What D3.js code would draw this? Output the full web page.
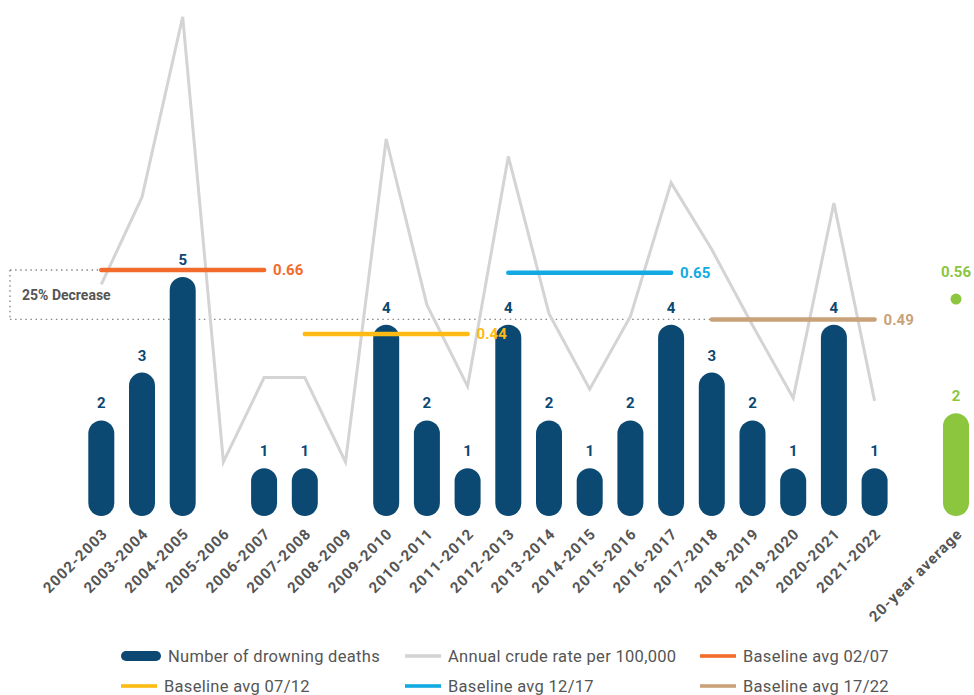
<!DOCTYPE html>
<html><head><meta charset="utf-8">
<script src="https://cdn.jsdelivr.net/npm/d3@7/dist/d3.min.js"></script>
<style>
body{margin:0;background:#fff;}
svg{display:block;font-family:Roboto,"Open Sans",sans-serif;}
</style></head>
<body>
<svg id="chart" width="974" height="695"></svg>
<script>
const categories = ["2002-2003","2003-2004","2004-2005","2005-2006","2006-2007","2007-2008","2008-2009","2009-2010","2010-2011","2011-2012","2012-2013","2013-2014","2014-2015","2015-2016","2016-2017","2017-2018","2018-2019","2019-2020","2020-2021","2021-2022"];
const deaths = [2,3,5,0,1,1,0,4,2,1,4,2,1,2,4,3,2,1,4,1];
const rates = [0.61,0.91,1.53,0,0.29,0.29,0,1.11,0.54,0.26,1.05,0.51,0.25,0.50,0.96,0.73,0.47,0.22,0.89,0.21];
const avgLabel = "20-year average";
const avgDeaths = 2.15;
const avgDeathsLabel = "2";
const avgRate = 0.56;
const baselines = [
  {name:"Baseline avg 02/07", value:0.66, from:"2002-2003", to:"2006-2007", color:"#f26b2a"},
  {name:"Baseline avg 07/12", value:0.44, from:"2007-2008", to:"2011-2012", color:"#fdbb13"},
  {name:"Baseline avg 12/17", value:0.65, from:"2012-2013", to:"2016-2017", color:"#13aae3"},
  {name:"Baseline avg 17/22", value:0.49, from:"2017-2018", to:"2021-2022", color:"#c9a27a"}
];
const decreaseLabel = "25% Decrease";

const navy = "#0b4872", green = "#8cc63f", grey = "#d4d4d6", textGrey = "#555";
const svg = d3.select("#chart");

const x = d3.scalePoint().domain([...categories, "gap", avgLabel]).range([101.3, 956]);
const yD = d3.scaleLinear().domain([0,5]).range([516, 277]);
const yR = d3.scaleLinear().domain([0,1]).range([462, 171]);
const barW = 26;

// dotted 25% decrease box
const dot = svg.append("g").attr("stroke","#888").attr("stroke-width",1.4).attr("stroke-dasharray","1.5,3.6").attr("fill","none");
dot.append("line").attr("x1",10).attr("x2",x("2002-2003")).attr("y1",yR(0.66)).attr("y2",yR(0.66));
dot.append("line").attr("x1",10).attr("x2",10).attr("y1",yR(0.66)).attr("y2",yR(0.49));
dot.append("line").attr("x1",10).attr("x2",x("2017-2018")).attr("y1",yR(0.49)).attr("y2",yR(0.49));
svg.append("text").attr("x",22).attr("y",(yR(0.66)+yR(0.49))/2+5).attr("font-size",14).attr("font-weight","bold").attr("fill",textGrey).text(decreaseLabel);

// bars
const bars = categories.map((c,i)=>({c, v:deaths[i]})).filter(d=>d.v>0);
svg.append("g").selectAll("rect").data(bars).join("rect")
  .attr("x",d=>x(d.c)-barW/2).attr("width",barW)
  .attr("y",d=>yD(d.v)).attr("height",d=>yD(0)-yD(d.v))
  .attr("rx",barW/2).attr("fill",navy);
svg.append("g").selectAll("text").data(bars).join("text")
  .attr("x",d=>x(d.c)).attr("y",d=>yD(d.v)-12).attr("text-anchor","middle")
  .attr("font-size",15).attr("font-weight","bold").attr("fill",navy).text(d=>d.v);

// avg bar
svg.append("rect").attr("x",x(avgLabel)-barW/2).attr("width",barW).attr("y",yD(avgDeaths)).attr("height",yD(0)-yD(avgDeaths)).attr("rx",barW/2).attr("fill",green);
svg.append("text").attr("x",x(avgLabel)).attr("y",yD(avgDeaths)-12).attr("text-anchor","middle").attr("font-size",15).attr("font-weight","bold").attr("fill",green).text(avgDeathsLabel);
svg.append("circle").attr("cx",x(avgLabel)).attr("cy",yR(avgRate)).attr("r",5.5).attr("fill",green);
svg.append("text").attr("x",x(avgLabel)).attr("y",yR(avgRate)-22).attr("text-anchor","middle").attr("font-size",15).attr("font-weight","bold").attr("fill",green).text(avgRate.toFixed(2));

// rate line
const line = d3.line().x((d,i)=>x(categories[i])).y(d=>yR(d));
svg.append("path").datum(rates).attr("d",line).attr("fill","none").attr("stroke",grey).attr("stroke-width",3);

// baselines
baselines.forEach(b=>{
  svg.append("line").attr("x1",x(b.from)).attr("x2",x(b.to)).attr("y1",yR(b.value)).attr("y2",yR(b.value))
    .attr("stroke",b.color).attr("stroke-width",4.5).attr("stroke-linecap","round");
  svg.append("text").attr("x",x(b.to)+9).attr("y",yR(b.value)+5.5).attr("font-size",15).attr("font-weight","bold").attr("fill",b.color).text(b.value.toFixed(2));
});

// x axis labels
const xAxis = d3.axisBottom(x).tickValues([...categories, avgLabel]).tickSize(0).tickPadding(0);
const ax = svg.append("g").attr("transform","translate(0,531)").call(xAxis);
ax.select(".domain").remove();
ax.selectAll("text").attr("font-size",15).attr("font-weight","bold").attr("fill",textGrey)
  .attr("font-family","Roboto,sans-serif").attr("letter-spacing",1)
  .attr("text-anchor","end").attr("dy","0.35em").attr("transform","translate(3,0) rotate(-45)");

// legend
const legendItems = [
  {name:"Number of drowning deaths", color:navy, type:"bar", col:0, row:0},
  {name:"Annual crude rate per 100,000", color:grey, type:"line", col:1, row:0},
  {name:baselines[0].name, color:baselines[0].color, type:"line", col:2, row:0},
  {name:baselines[1].name, color:baselines[1].color, type:"line", col:0, row:1},
  {name:baselines[2].name, color:baselines[2].color, type:"line", col:1, row:1},
  {name:baselines[3].name, color:baselines[3].color, type:"line", col:2, row:1}
];
const colX = [121, 405, 700], rowY = [656, 686];
legendItems.forEach(d=>{
  const g = svg.append("g").attr("transform",`translate(${colX[d.col]},${rowY[d.row]})`);
  if(d.type==="bar") g.append("rect").attr("x",0).attr("y",-5).attr("width",40).attr("height",10).attr("rx",5).attr("fill",d.color);
  else g.append("rect").attr("x",0).attr("y",-1.8).attr("width",36).attr("height",3.6).attr("fill",d.color);
  g.append("text").attr("x",d.type==="bar"?47:43).attr("y",5.5).attr("font-size",16.5).attr("letter-spacing",0.3).attr("fill",textGrey).text(d.name);
});
</script>
</body></html>
